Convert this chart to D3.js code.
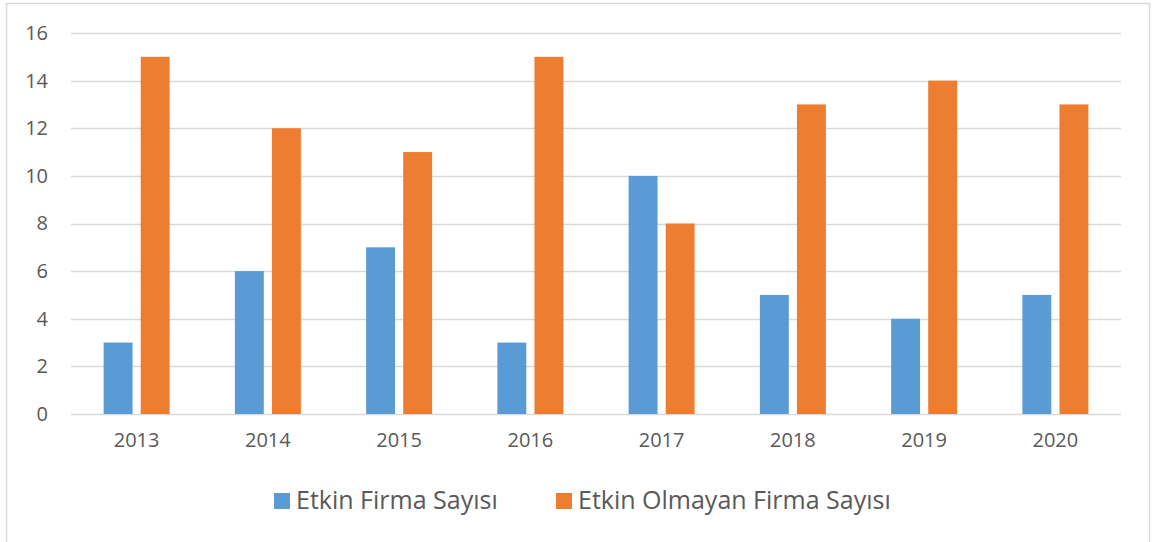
<!DOCTYPE html>
<html>
<head>
<meta charset="utf-8">
<script src="https://cdn.jsdelivr.net/npm/d3@7"></script>
<style>
  html, body { margin: 0; padding: 0; background: #fff; }
  svg { display: block; font-family: "Open Sans", sans-serif; }
</style>
</head>
<body>
<div id="chart"></div>
<script>
// dữ liệu
const years = ["2013", "2014", "2015", "2016", "2017", "2018", "2019", "2020"];
const etkin = [3, 6, 7, 3, 10, 5, 4, 5];
const etkinOlmayan = [15, 12, 11, 15, 8, 13, 14, 13];
const seriesNames = ["Etkin Firma Sayısı", "Etkin Olmayan Firma Sayısı"];
const seriesColors = ["#5B9BD5", "#ED7D31"];
const yTicks = [0, 2, 4, 6, 8, 10, 12, 14, 16];

const W = 1152, H = 542;
const margin = { top: 33, right: 31, bottom: 128, left: 71 };
const width = W - margin.left - margin.right;
const height = H - margin.top - margin.bottom;

const svg = d3.select("#chart").append("svg")
    .attr("width", W)
    .attr("height", H);

// khung viền
svg.append("rect")
    .attr("x", 6.5).attr("y", 3.5)
    .attr("width", 1143).attr("height", 560)
    .attr("fill", "#fff")
    .attr("stroke", "#D9D9D9")
    .attr("stroke-width", 1.5);

const g = svg.append("g")
    .attr("transform", `translate(${margin.left},${margin.top})`);

const data = years.map((yr, i) => ({ year: yr, values: [etkin[i], etkinOlmayan[i]] }));

const x = d3.scaleBand().domain(years).range([0, width]).padding(0);
const groupW = 66;
const x1 = d3.scaleBand()
    .domain([0, 1])
    .range([(x.bandwidth() - groupW) / 2, (x.bandwidth() + groupW) / 2])
    .paddingInner(0.22);

const y = d3.scaleLinear().domain([0, 16]).range([height, 0]);

// lưới ngang
g.append("g")
    .selectAll("line")
    .data(yTicks)
    .join("line")
    .attr("x1", 0).attr("x2", width)
    .attr("y1", d => Math.round(y(d)) + 0.5)
    .attr("y2", d => Math.round(y(d)) + 0.5)
    .attr("stroke", "#D9D9D9")
    .attr("stroke-width", 1.5);

// trục Y
const yAxis = g.append("g")
    .call(d3.axisLeft(y).tickValues(yTicks).tickSize(0).tickPadding(23));
yAxis.select(".domain").remove();
yAxis.selectAll("text")
    .style("font-size", "20px")
    .style("fill", "#595959")
    .style("font-family", "'Open Sans', sans-serif");

// trục X
const xAxis = g.append("g")
    .attr("transform", `translate(0,${height})`)
    .call(d3.axisBottom(x).tickSize(0).tickPadding(19));
xAxis.select(".domain").remove();
xAxis.selectAll("text")
    .style("font-size", "20px")
    .style("fill", "#595959")
    .style("font-family", "'Open Sans', sans-serif");

// các cột
const groups = g.selectAll(".grp")
    .data(data)
    .join("g")
    .attr("class", "grp")
    .attr("transform", d => `translate(${x(d.year)},0)`);

groups.selectAll("rect")
    .data(d => d.values.map((v, i) => ({ i, v })))
    .join("rect")
    .attr("x", d => x1(d.i))
    .attr("y", d => y(d.v))
    .attr("width", x1.bandwidth())
    .attr("height", d => height - y(d.v))
    .attr("fill", d => seriesColors[d.i]);

// chú giải
const legendItems = [
    { name: seriesNames[0], color: seriesColors[0], x: 274 },
    { name: seriesNames[1], color: seriesColors[1], x: 556 }
];
const legend = svg.append("g");
legendItems.forEach(item => {
    legend.append("rect")
        .attr("x", item.x).attr("y", 493)
        .attr("width", 16).attr("height", 16)
        .attr("fill", item.color);
    legend.append("text")
        .attr("x", item.x + 22).attr("y", 509)
        .style("font-size", "25px")
        .style("fill", "#595959")
        .text(item.name);
});
</script>
</body>
</html>
